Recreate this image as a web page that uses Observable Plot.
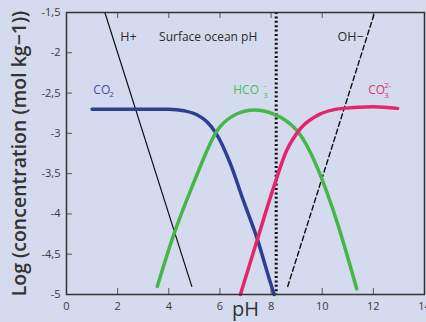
<!DOCTYPE html>
<html>
<head>
<meta charset="utf-8">
<script src="https://cdn.jsdelivr.net/npm/d3@7"></script>
<script src="https://cdn.jsdelivr.net/npm/@observablehq/plot@0.6"></script>
<style>
  html, body { margin: 0; padding: 0; background: #d4dbee; }
  #chart svg { display: block; }
</style>
</head>
<body>
<div id="chart"></div>
<script>
// Carbonate system species vs pH (log concentration)
const co2PH  = [1.0, 3.0, 4.0, 4.6, 5.1, 5.5, 5.85, 6.4, 6.9, 7.45, 8.0, 8.12];
const co2Log = [-2.7, -2.7, -2.7, -2.72, -2.77, -2.86, -3.0, -3.37, -3.82, -4.3, -4.88, -5.0];

const hco3PH  = [3.55, 4.2, 4.85, 5.5, 6.0, 6.65, 7.35, 8.1, 9.0, 9.8, 10.6, 11.35];
const hco3Log = [-4.9, -4.25, -3.71, -3.21, -2.92, -2.76, -2.71, -2.76, -2.96, -3.42, -4.12, -4.93];

const co3PH  = [6.8, 7.45, 8.1, 8.6, 9.15, 9.8, 10.8, 12.0, 12.95];
const co3Log = [-5.0, -4.33, -3.67, -3.22, -2.94, -2.78, -2.69, -2.67, -2.69];

const hPH  = [1.5, 4.9];
const hLog = [-1.5, -4.9];

const ohPH  = [8.65, 12.05];
const ohLog = [-4.9, -1.5];

const surfacePH = 8.2;

const xTicks = [0, 2, 4, 6, 8, 10, 12, 14];
const yTicks = [-5, -4.5, -4, -3.5, -3, -2.5, -2, -1.5];

const pts = (xs, ys) => xs.map((x, i) => ({x, y: ys[i]}));

const blue = "#2c3f94", green = "#47b64a", pink = "#e5256b", ink = "#2b2b2b";
const font = "Open Sans, Lato, sans-serif";

// frame geometry, used for inward-pointing tick marks
const W = 426, H = 322, mL = 66, mR = 2, mT = 12, mB = 28, tick = 6;
const innerW = W - mL - mR, innerH = H - mT - mB;

const chart = Plot.plot({
  width: W,
  height: H,
  marginLeft: mL,
  marginRight: mR,
  marginTop: mT,
  marginBottom: mB,
  style: {background: "#d4dbee", fontFamily: font, fontSize: "11px", color: "#3a3a3a"},
  x: {domain: [0, 14]},
  y: {domain: [-5, -1.5]},
  marks: [
    Plot.axisX({ticks: xTicks, tickSize: 0, tickPadding: 8, label: null}),
    Plot.axisY({ticks: yTicks, tickSize: 0, tickPadding: 6, label: null,
      tickFormat: d => String(d).replace(".", ",")}),
    // inward ticks on bottom, top and left edges
    Plot.ruleX(xTicks.slice(1, -1), {stroke: "#555", strokeWidth: 1, insetTop: innerH - tick}),
    Plot.ruleX(xTicks.slice(1, -1), {stroke: "#555", strokeWidth: 1, insetBottom: innerH - tick}),
    Plot.ruleY(yTicks.slice(1, -1), {stroke: "#555", strokeWidth: 1, insetRight: innerW - tick}),
    // surface ocean pH marker
    Plot.ruleX([surfacePH], {stroke: "#111", strokeWidth: 3, strokeDasharray: "2,2.4"}),
    // H+ and OH- lines
    Plot.line(pts(hPH, hLog), {x: "x", y: "y", stroke: "#111", strokeWidth: 1.2}),
    Plot.line(pts(ohPH, ohLog), {x: "x", y: "y", stroke: "#111", strokeWidth: 1.4, strokeDasharray: "5,3"}),
    // species curves
    Plot.line(pts(co2PH, co2Log), {x: "x", y: "y", stroke: blue, strokeWidth: 3.5, curve: "monotone-x"}),
    Plot.line(pts(hco3PH, hco3Log), {x: "x", y: "y", stroke: green, strokeWidth: 3.5, curve: "natural"}),
    Plot.line(pts(co3PH, co3Log), {x: "x", y: "y", stroke: pink, strokeWidth: 3.5, curve: "monotone-x"}),
    Plot.frame({stroke: "#333", strokeWidth: 1.5}),
    // labels
    Plot.text(["H+"], {x: 2.1, y: -1.81, text: d => d, textAnchor: "start", fill: ink, fontSize: 12.5}),
    Plot.text(["Surface ocean pH"], {x: 3.62, y: -1.81, text: d => d, textAnchor: "start", fill: ink, fontSize: 12}),
    Plot.text(["OH−"], {x: 10.6, y: -1.81, text: d => d, textAnchor: "start", fill: ink, fontSize: 12.5}),
    Plot.text(["CO"], {x: 1.05, y: -2.47, text: d => d, textAnchor: "start", fill: "#3a4ea6", fontSize: 12}),
    Plot.text(["2"], {x: 1.05, y: -2.47, text: d => d, textAnchor: "start", dx: 16, dy: 4, fill: "#3a4ea6", fontSize: 8}),
    Plot.text(["HCO"], {x: 6.52, y: -2.47, text: d => d, textAnchor: "start", fill: "#55bc55", fontSize: 12}),
    Plot.text(["-"], {x: 6.52, y: -2.47, text: d => d, textAnchor: "start", dx: 30, dy: -5, fill: "#55bc55", fontSize: 8}),
    Plot.text(["3"], {x: 6.52, y: -2.47, text: d => d, textAnchor: "start", dx: 30, dy: 5, fill: "#55bc55", fontSize: 8}),
    Plot.text(["CO"], {x: 11.8, y: -2.47, text: d => d, textAnchor: "start", fill: "#e2306e", fontSize: 12}),
    Plot.text(["2-"], {x: 11.8, y: -2.47, text: d => d, textAnchor: "start", dx: 16, dy: -5, fill: "#e2306e", fontSize: 8}),
    Plot.text(["3"], {x: 11.8, y: -2.47, text: d => d, textAnchor: "start", dx: 16, dy: 5, fill: "#e2306e", fontSize: 8}),
    // axis titles
    Plot.text(["pH"], {x: 7.0, y: -5, text: d => d, dy: 15, fill: "#333", fontSize: 20}),
    Plot.text(["Log (concentration (mol kg−1))"], {frameAnchor: "left", text: d => d, rotate: -90, dx: -47,
      textAnchor: "middle", fill: "#333", fontSize: 19.5, fontWeight: 600})
  ]
});

document.getElementById("chart").appendChild(chart);
</script>
</body>
</html>
